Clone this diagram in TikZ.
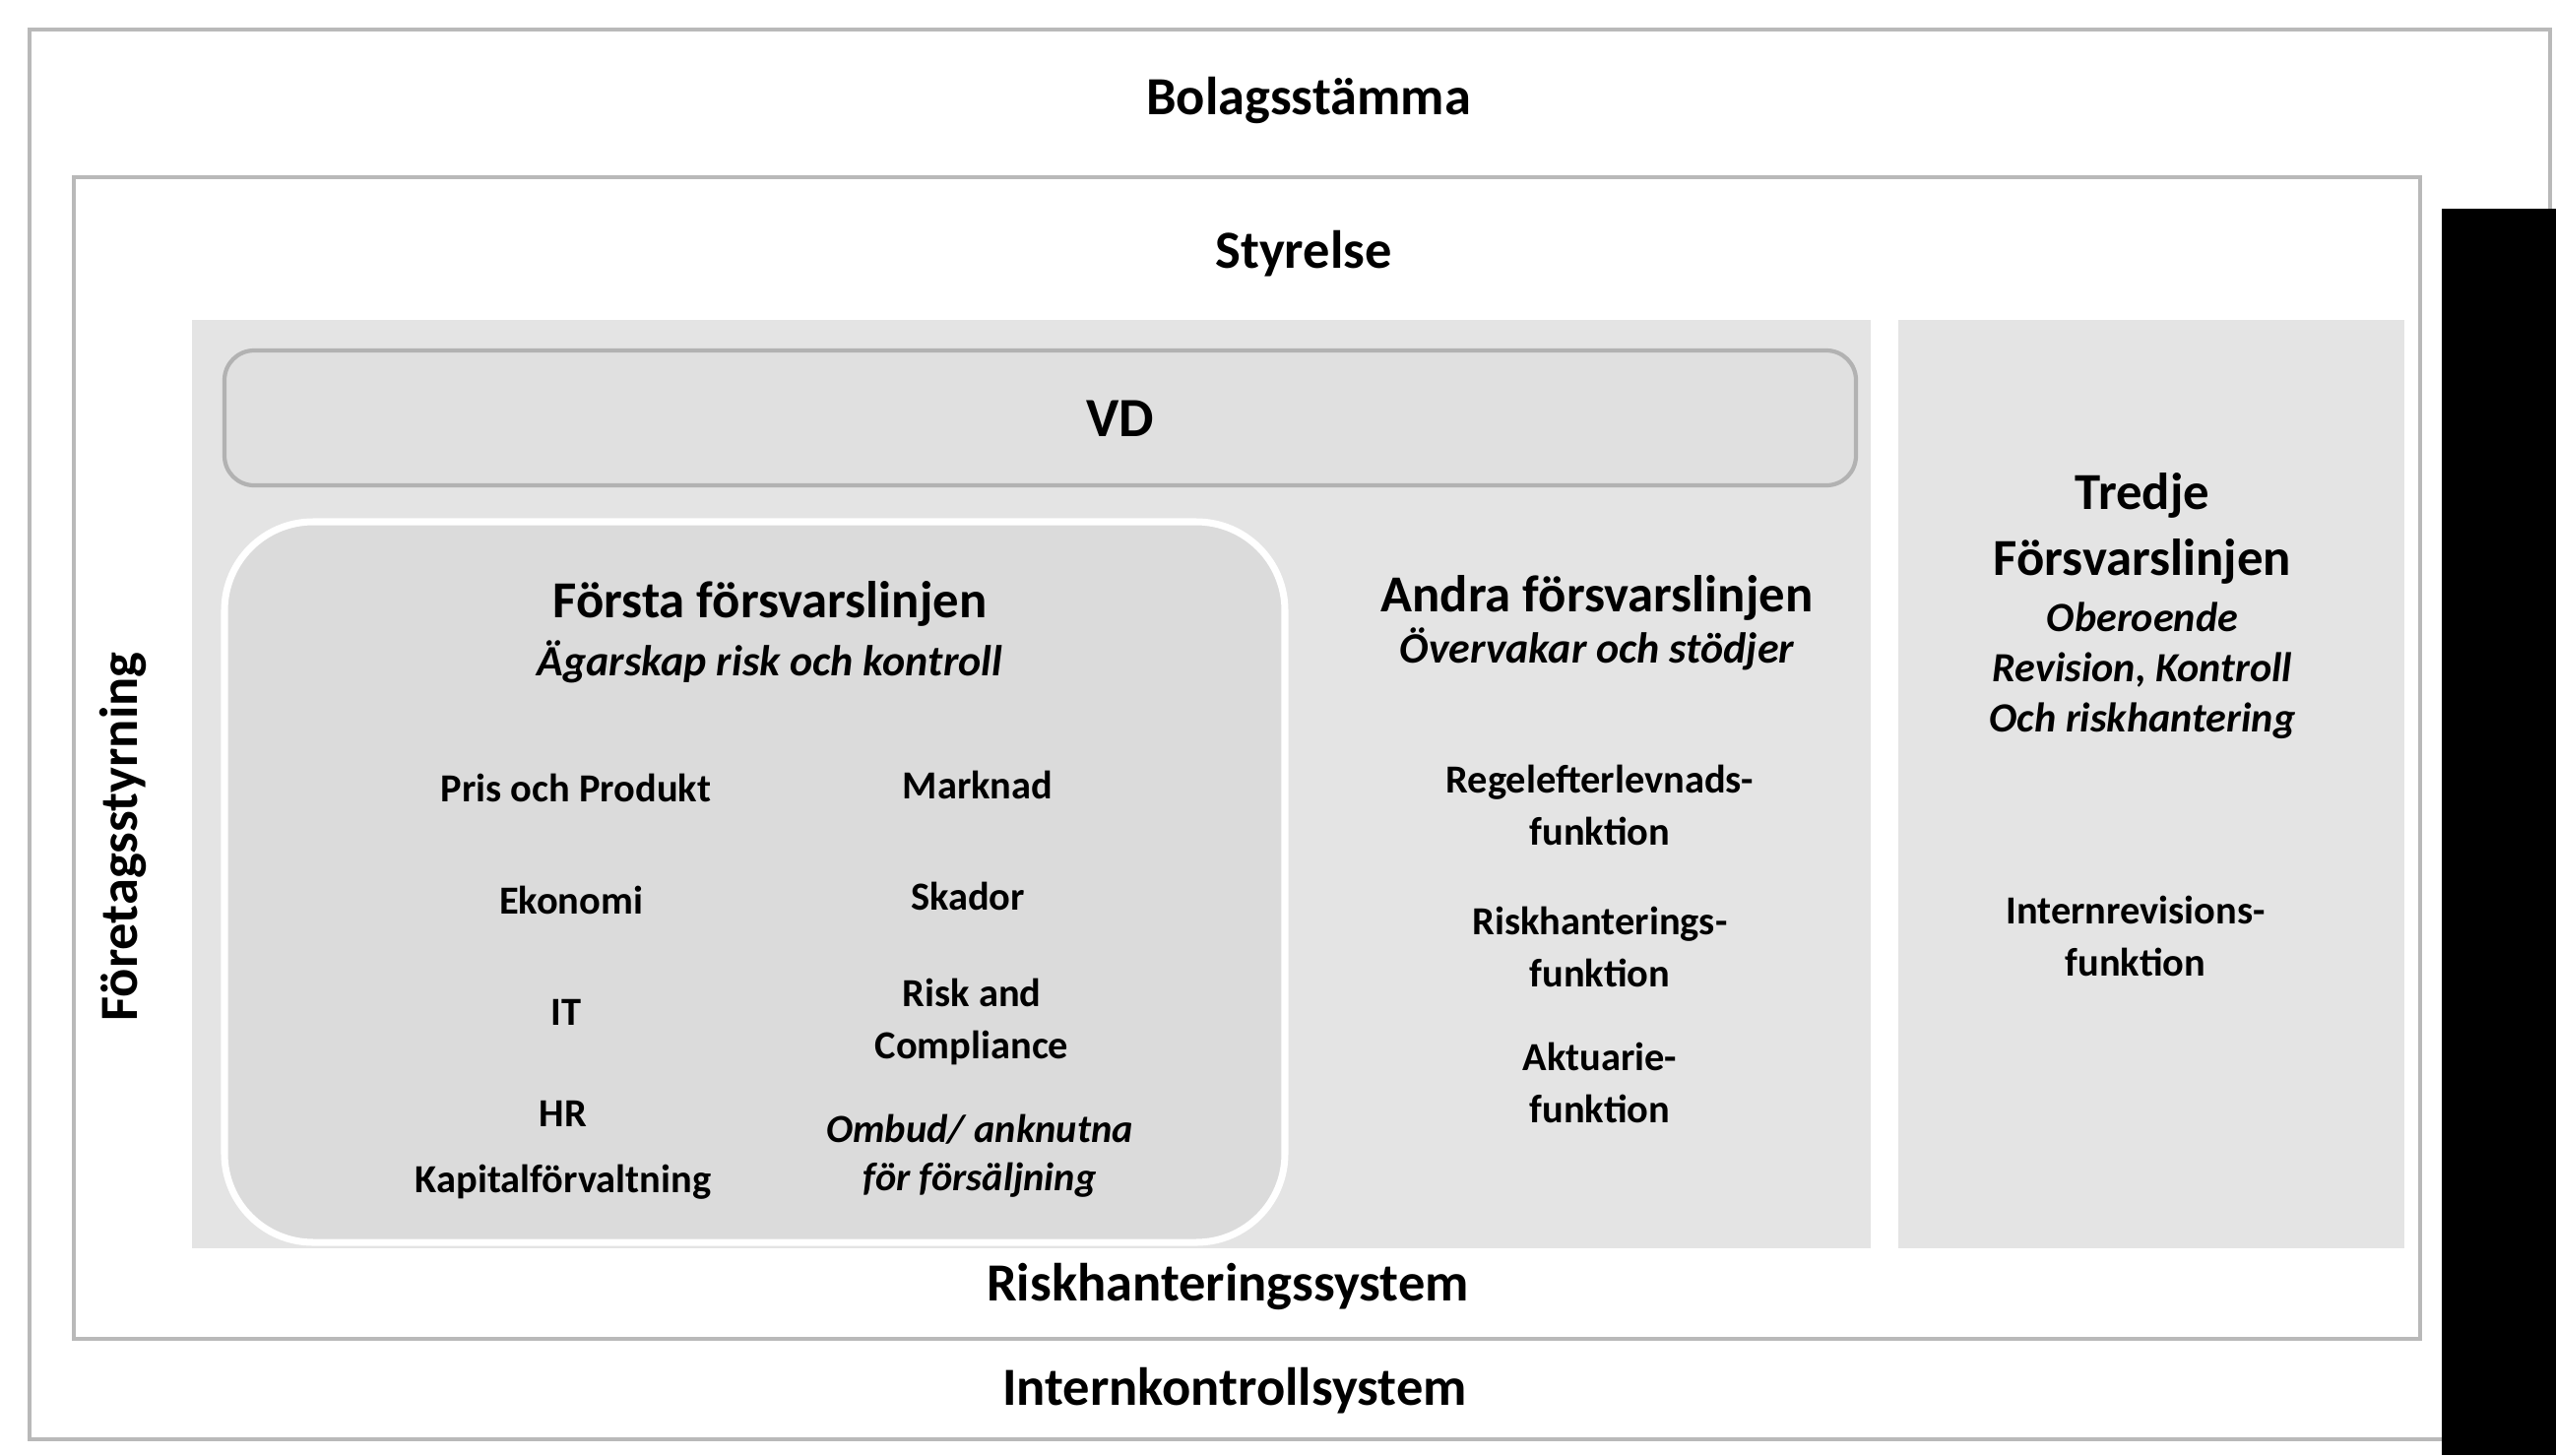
\documentclass[tikz,border=0pt]{standalone}
\usepackage{fontspec}
\setmainfont{Carlito}
\usetikzlibrary{positioning}

\tikzset{
  band/.style={draw=gray!55,line width=1pt},
  area/.style={fill=gray!21},
  lbl/.style={font=\bfseries\fontsize{15.5}{18}\selectfont},
  head/.style={font=\bfseries\fontsize{15}{19}\selectfont,align=center},
  sub/.style={font=\bfseries\itshape\fontsize{12.5}{15}\selectfont,align=center},
  item/.style={font=\bfseries\fontsize{11.5}{15}\selectfont,align=center},
}

\begin{document}
\begin{tikzpicture}[x=0.01cm,y=-0.01cm]
\useasboundingbox (0,0) rectangle (2596,1478);

% ramar
\draw[band] (30,30) rectangle (2590,1462);
\draw[band] (75,180) rectangle (2458,1360);
\fill[area] (195,325) rectangle (1900,1268);
\fill[area] (1928,325) rectangle (2442,1268);
\draw[fill=gray!24,draw=gray!60,line width=1.2pt,rounded corners=0.3cm] (228,356) rectangle (1885,493);
\draw[fill=gray!28,draw=white,line width=2pt,rounded corners=0.9cm] (228,530) rectangle (1305,1262);
\fill[black] (2480,212) rectangle (2596,1478);

\node[lbl] (stamma) at (1329,102) {Bolagsstämma};
\node[lbl] (styrelse) at (1324,258) {Styrelse};
\node[font=\bfseries\fontsize{16}{18}\selectfont] (vd) at (1138,425) {VD};
\node[lbl,rotate=90] (styrning) at (125,850) {Företagsstyrning};
\node[lbl] (riskhant) at (1247,1307) {Riskhanteringssystem};
\node[lbl] (intern) at (1254,1413) {Internkontrollsystem};

% forsta linjen
\node[head] (forsta) at (782,613) {Första försvarslinjen};
\node[sub] (forstasub) at (782,672) {Ägarskap risk och kontroll};
\node[item] (pris) at (585,800) {Pris och Produkt};
\node[item] (ekonomi) at (580,914) {Ekonomi};
\node[item] (it) at (575,1028) {IT};
\node[item] (kapital) at (572,1168) {HR\\[4pt]Kapitalförvaltning};
\node[item] (marknad) at (993,797) {Marknad};
\node[item] (skador) at (983,910) {Skador};
\node[item] (compliance) at (987,1038) {Risk and\\Compliance};
\node[item,font=\bfseries\itshape\fontsize{11.5}{14}\selectfont] (ombud) at (995,1174) {Ombud/ anknutna\\för försäljning};

% andra linjen
\node[head] (andra) at (1622,607) {Andra försvarslinjen};
\node[sub] (andrasub) at (1622,659) {Övervakar och stödjer};
\foreach \fn/\yy [count=\i] in {Regelefterlevnads-/818,Riskhanterings-/962,Aktuarie-/1100}
  \node[item] (funk\i) at (1625,\yy) {\fn\\funktion};

% tredje linjen
\node[head] (tredje) at (2176,537) {Tredje\\Försvarslinjen};
\node[sub,font=\bfseries\itshape\fontsize{12}{14.5}\selectfont] (tredjesub) at (2176,681) {Oberoende\\Revision, Kontroll\\Och riskhantering};
\node[item] (internrev) at (2169,951) {Internrevisions-\\funktion};

\end{tikzpicture}
\end{document}
